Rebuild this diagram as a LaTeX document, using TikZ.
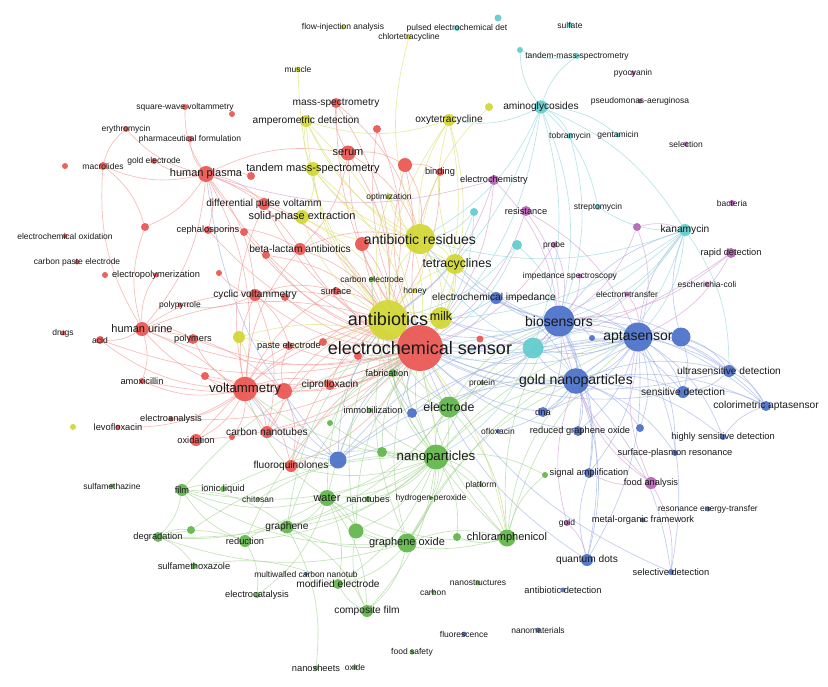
\documentclass[tikz,border=0pt]{standalone}
\usepackage{fontspec}
\setmainfont{Liberation Sans}
\pgfdeclarelayer{bg}\pgfdeclarelayer{fg}\pgfsetlayers{bg,main,fg}
\definecolor{cR}{HTML}{E95450}
\definecolor{cY}{HTML}{D2D632}
\definecolor{cG}{HTML}{60B648}
\definecolor{cB}{HTML}{4A6FC8}
\definecolor{cC}{HTML}{60CCCE}
\definecolor{cP}{HTML}{B762B7}
\definecolor{lR}{HTML}{F29A96}
\definecolor{lY}{HTML}{DDE070}
\definecolor{lG}{HTML}{A6D696}
\definecolor{lB}{HTML}{9EB2E6}
\definecolor{lC}{HTML}{96D6DE}
\definecolor{lP}{HTML}{D49ED6}
\tikzset{
  nd/.style={circle,inner sep=0pt,draw=none,fill opacity=0.92},
  lbl/.style={inner sep=0pt,text=black!90},
  f8/.style={font=\fontsize{8.5}{9}\selectfont},
  f9/.style={font=\fontsize{9.3}{10}\selectfont},
  f10/.style={font=\fontsize{10.2}{11}\selectfont},
  f11/.style={font=\fontsize{11}{12}\selectfont},
  f12/.style={font=\fontsize{12.4}{13}\selectfont},
  f13/.style={font=\fontsize{13.2}{14}\selectfont},
  f14/.style={font=\fontsize{14}{15}\selectfont},
  f18/.style={font=\fontsize{18}{19}\selectfont},
  ed/.style={line width=0.65pt,opacity=0.66},
  eR/.style={ed,draw=lR}, eY/.style={ed,draw=lY}, eG/.style={ed,draw=lG},
  eB/.style={ed,draw=lB}, eC/.style={ed,draw=lC}, eP/.style={ed,draw=lP}
}
\newcommand\kw[7]{\node[nd,minimum size=#4*2pt,fill=#5] (#1) at (#2,#3) {};
  \begin{pgfonlayer}{fg}\node[lbl,#6] (#1l) at (#1) {#7};\end{pgfonlayer}}
\newcommand\kn[5]{\node[nd,minimum size=#4*2pt,fill=#5] (#1) at (#2,#3) {};}
\begin{document}
\begin{tikzpicture}[x=1pt,y=-1pt]
\useasboundingbox (0,0) rectangle (828,686);
% ---------- yellow
\kw{fia}{343}{27}{2.5}{cY}{f8}{flow-injection analysis}
\kw{ctc}{409}{37}{2.5}{cY}{f8}{chlortetracycline}
\kw{mus}{298}{69}{2.5}{cY}{f8}{muscle}
\kw{amp}{306}{121}{6}{cY}{f10}{amperometric detection}
\kw{tms}{313}{169}{7}{cY}{f11}{tandem mass-spectrometry}
\kw{opt}{389}{197}{3}{cY}{f8}{optimization}
\kw{spe}{302}{217}{7}{cY}{f11}{solid-phase extraction}
\kn{y489}{489}{107}{4}{cY}
\kw{oxy}{449}{120}{6}{cY}{f10}{oxytetracycline}
\kw{ar}{420}{239}{15}{cY}{f14}{antibiotic residues}
\kw{tc}{455}{264}{10}{cY}{f12,xshift=2pt}{tetracyclines}
\kw{honey}{415}{291}{2.5}{cY}{f8}{honey}
\kw{ab}{388}{320}{20}{cY}{f18,yshift=1pt}{antibiotics}
\kw{milk}{441}{318}{11}{cY}{f12,yshift=2pt}{milk}
\kn{y239}{239}{337}{6}{cY}
\kn{y73}{73}{427}{3}{cY}
% ---------- red
\kw{ms}{336}{103}{5}{cR}{f10}{mass-spectrometry}
\kw{swv}{185}{107}{3}{cR}{f8}{square-wave voltammetry}
\kn{r232}{232}{114}{3}{cR}
\kn{r377}{377}{129}{4}{cR}
\kw{ery}{126}{129}{3}{cR}{f8}{erythromycin}
\kw{pharm}{190}{139}{3}{cR}{f8}{pharmaceutical formulation}
\kw{serum}{348}{153}{7.5}{cR}{f11}{serum}
\kn{r405}{405}{165}{7}{cR}
\kw{mac}{103}{166}{4}{cR}{f8}{macrolides}
\kn{r65}{65}{166}{3}{cR}
\kw{gel}{154}{161}{3}{cR}{f8}{gold electrode}
\kw{hp}{206}{174}{8}{cR}{f11}{human plasma}
\kn{r251}{251}{176}{4}{cR}
\kw{bind}{440}{172}{4}{cR}{f9}{binding}
\kw{dpv}{264}{204}{6}{cR}{f10}{differential pulse voltamm}
\kn{r145}{145}{227}{4}{cR}
\kw{ceph}{208}{230}{4}{cR}{f9}{cephalosporins}
\kn{r244}{244}{232}{4}{cR}
\kw{eox}{65}{236}{2.5}{cR}{f8}{electrochemical oxidation}
\kw{bla}{300}{249}{6}{cR}{f10}{beta-lactam antibiotics}
\kn{r266}{266}{255}{4}{cR}
\kn{r362}{362}{244}{7}{cR}
\kw{cpe}{77}{262}{2.5}{cR}{f8}{carbon paste electrode}
\kn{r105}{105}{275}{3}{cR}
\kw{epol}{156}{275}{2.5}{cR}{f9}{electropolymerization}
\kn{r219}{219}{273}{3}{cR}
\kw{cv}{255}{295}{6}{cR}{f10}{cyclic voltammetry}
\kn{r285}{285}{297}{4}{cR}
\kw{surf}{336}{291}{4}{cR}{f9}{surface}
\kw{ppy}{180}{305}{2.5}{cR}{f8}{polypyrrole}
\kw{hu}{142}{329}{7}{cR}{f11}{human urine}
\kw{drugs}{63}{333}{2.5}{cR}{f8}{drugs}
\kw{acid}{100}{340}{4}{cR}{f8}{acid}
\kw{poly}{193}{339}{5}{cR}{f9}{polymers}
\kw{pe}{289}{346}{4}{cR}{f9}{paste electrode}
\kn{r323}{323}{342}{4}{cR}
\kn{r358}{358}{356}{4}{cR}
\kw{amox}{142}{381}{3}{cR}{f9}{amoxicillin}
\kn{r205}{205}{376}{4}{cR}
\kw{vt}{245}{389}{12.3}{cR}{f13}{voltammetry}
\kn{v2}{284}{391}{8}{cR}
\kw{cip}{330}{385}{5}{cR}{f10}{ciprofloxacin}
\kw{ea}{171}{419}{2.5}{cR}{f9}{electroanalysis}
\kw{levo}{118}{427}{2.5}{cR}{f9}{levofloxacin}
\kw{oxid}{196}{440}{6}{cR}{f9}{oxidation}
\kw{cnt}{267}{432}{6}{cR}{f10}{carbon nanotubes}
\kn{r232b}{232}{437}{3}{cR}
\kw{fq}{291}{466}{6}{cR}{f10}{fluoroquinolones}
\kn{r480}{480}{339}{3.5}{cR}
% ---------- cyan
\kw{ped}{457}{28}{3}{cC}{f8}{pulsed electrochemical det}
\kn{c498}{498}{18}{3.5}{cC}
\kw{sulf}{570}{25}{2.5}{cC}{f8}{sulfate}
\kn{c520}{520}{50}{3}{cC}
\kw{tms2}{577}{56}{3}{cC}{f8}{tandem-mass-spectrometry}
\kw{ami}{541}{107}{6.7}{cC}{f10}{aminoglycosides}
\kw{tob}{570}{136}{3}{cC}{f8}{tobramycin}
\kw{gen}{618}{135}{2.5}{cC}{f8}{gentamicin}
\kn{c474}{474}{212}{4}{cC}
\kw{strep}{598}{207}{3}{cC}{f8}{streptomycin}
\kw{kan}{685}{230}{6}{cC}{f10}{kanamycin}
\kn{c517}{517}{245}{5}{cC}
% ---------- purple
\kw{pyo}{633}{73}{2.5}{cP}{f8}{pyocyanin}
\kw{pa}{640}{101}{2.5}{cP}{f8}{pseudomonas-aeruginosa}
\kw{selc}{686}{144}{2.5}{cP}{f8}{selection}
\kw{echem}{494}{180}{5}{cP}{f9}{electrochemistry}
\kw{res}{526}{211}{5}{cP}{f9}{resistance}
\kw{bact}{732}{203}{3}{cP}{f8}{bacteria}
\kn{p637}{637}{227}{4}{cP}
\kw{probe}{554}{245}{3}{cP}{f8}{probe}
\kw{rd}{731}{253}{5}{cP}{f9}{rapid detection}
\kw{imps}{580}{276}{2.5}{cP}{f8,xshift=-10pt}{impedance spectroscopy}
\kw{ecoli}{707}{284}{2.5}{cP}{f8}{escherichia-coli}
\kw{et}{627}{294}{2.5}{cP}{f8}{electron-transfer}
\kw{fa}{651}{483}{6}{cP}{f9}{food analysis}
\kw{gold}{567}{523}{3}{cP}{f8}{gold}
% ---------- green
\kw{cel}{372}{279}{2.5}{cG}{f8}{carbon electrode}
\kw{fab}{393}{373}{4}{cG}{f9,xshift=-6pt}{fabrication}
\kw{imm}{370}{410}{2.5}{cG}{f9,xshift=3pt}{immobilization}
\kn{g330}{330}{423}{3}{cG}
\kw{el}{449}{407}{10.5}{cG}{f12}{electrode}
\kn{g382}{382}{452}{5}{cG}
\kw{np}{436}{457}{12.5}{cG}{f13}{nanoparticles}
\kw{sfz}{112}{486}{2.5}{cG}{f8}{sulfamethazine}
\kw{film}{182}{490}{6}{cG}{f9}{film}
\kw{il}{223}{489}{3}{cG}{f9}{ionic liquid}
\kw{chit}{258}{499}{2}{cG}{f8}{chitosan}
\kw{wat}{327}{498}{8}{cG}{f11}{water}
\kw{nt}{368}{499}{3}{cG}{f9}{nanotubes}
\kw{hpx}{431}{498}{2}{cG}{f8}{hydrogen-peroxide}
\kw{plat}{481}{485}{2}{cG}{f8}{platform}
\kw{prot}{482}{383}{2}{cG}{f8}{protein}
\kw{deg}{158}{537}{5}{cG}{f9}{degradation}
\kn{g191}{191}{530}{4}{cG}
\kw{gr}{287}{527}{6.5}{cG}{f10}{graphene}
\kw{redu}{245}{541}{6}{cG}{f9}{reduction}
\kn{g356}{356}{531}{7.5}{cG}
\kw{go}{407}{543}{9.5}{cG}{f11}{graphene oxide}
\kn{g457}{457}{537}{4}{cG}
\kw{chl}{507}{538}{8.5}{cG}{f11}{chloramphenicol}
\kn{g545}{545}{475}{3}{cG}
\kw{smx}{194}{566}{3}{cG}{f9}{sulfamethoxazole}
\kw{mod}{338}{584}{5}{cG}{f10}{modified electrode}
\kw{ecat}{257}{595}{3}{cG}{f9}{electrocatalysis}
\kw{cf}{367}{611}{6}{cG}{f10}{composite film}
\kw{fs}{412}{652}{2.5}{cG}{f8}{food safety}
\kw{nsh}{316}{668}{2.5}{cG}{f9}{nanosheets}
\kw{oxide}{355}{667}{2.5}{cG}{f8}{oxide}
\kw{nstr}{478}{583}{2.5}{cG}{f8}{nanostructures}
\kw{carb}{433}{592}{2}{cG}{f8}{carbon}
% ---------- blue
\kw{eimp}{496}{298}{6}{cB}{f10,xshift=-2pt}{electrochemical impedance}
\kn{cy1}{533}{348}{10.5}{cC}
\kw{bs}{559}{321}{15.5}{cB}{f14}{biosensors}
\kw{apt}{638}{337}{14.5}{cB}{f14}{aptasensor}
\kn{b681}{681}{337}{9.5}{cB}
\kn{b592}{592}{338}{3}{cB}
\kw{gnp}{576}{381}{12.8}{cB}{f14}{gold nanoparticles}
\kw{usd}{729}{371}{6}{cB}{f10}{ultrasensitive detection}
\kw{sd}{683}{392}{6}{cB}{f10}{sensitive detection}
\kw{ca}{766}{406}{5}{cB}{f10}{colorimetric aptasensor}
\kn{b412}{412}{413}{5}{cB}
\kw{dna}{543}{412}{5}{cB}{f9}{dna}
\kw{oflx}{498}{431}{2}{cB}{f8}{ofloxacin}
\kw{rgo}{578}{431}{5}{cB}{f9,xshift=2pt}{reduced graphene oxide}
\kn{b640}{640}{428}{4}{cB}
\kw{hsd}{723}{437}{3}{cB}{f9}{highly sensitive detection}
\kw{spr}{675}{453}{3}{cB}{f9}{surface-plasmon resonance}
\kn{bl1}{338}{460}{8.5}{cB}
\kw{mwcnt}{306}{574}{2}{cB}{f8}{multiwalled carbon nanotub}
\kw{sa}{589}{473}{5}{cB}{f9}{signal amplification}
\kw{ret}{708}{509}{2.5}{cB}{f8}{resonance energy-transfer}
\kw{mof}{643}{520}{2.5}{cB}{f9}{metal-organic framework}
\kw{qd}{587}{560}{6}{cB}{f10}{quantum dots}
\kw{sel}{671}{572}{3}{cB}{f9}{selective detection}
\kw{ad}{563}{590}{2.5}{cB}{f9}{antibiotic detection}
\kw{fluo}{464}{634}{2.5}{cB}{f8}{fluorescence}
\kw{nm}{538}{630}{2.5}{cB}{f8}{nanomaterials}
% the big red one on top
\kw{es}{420}{348}{23}{cR}{f18}{electrochemical sensor}
% ---------- edges
\begin{pgfonlayer}{bg}
\fill[white] (0,0) rectangle (828,686);
\foreach \a/\b in {es/ms,es/serum,es/r405,es/hp,es/dpv,es/bla,es/r362,es/cv,es/surf,es/hu,es/poly,es/pe,es/r323,es/r358,es/vt,es/v2,es/cip,es/cnt,es/oxid,es/fq,es/bind,es/r377,es/r266,es/r285,es/r205,es/ea,es/ceph,es/acid,es/r244,es/amox,
 hp/mac,hp/vt,hp/hu,hp/ceph,hp/dpv,hp/cv,hp/serum,hp/bla,hp/pharm,hp/gel,hp/ery,hp/r251,hp/r145,hp/ab,hp/swv,
 vt/hu,vt/cv,vt/cnt,vt/oxid,vt/poly,vt/cip,vt/v2,vt/dpv,vt/bla,vt/acid,vt/amox,vt/ea,vt/fq,vt/r205,vt/pe,vt/surf,vt/ab,vt/levo,vt/r232b,
 hu/acid,hu/cv,hu/poly,hu/v2,hu/r145,hu/mac,hu/amox,hu/cnt,hu/ab,hu/epol,
 serum/ms,serum/r405,serum/bla,serum/ab,serum/ar,r405/ab,r405/ar,r405/bind,
 cv/surf,cv/pe,cv/cnt,cv/ppy,cv/ab,cv/r219,mac/r145,mac/ery,ceph/bla,bla/ab,bla/ar,r362/ab,
 v2/cnt,v2/cip,v2/pe,v2/fq,v2/ab,cip/ab,fq/ab,fq/es,cnt/ab,dpv/ab,r266/ab,ms/ab,ms/ar,r377/ab,bind/ab,surf/ab,r358/ab,r323/ab,oxid/ab}
  \draw[eR] (\a) to[bend left=17] (\b);
\foreach \a/\b in {ab/ar,ab/tc,ab/milk,ab/amp,ab/tms,ab/spe,ab/oxy,ab/opt,ab/honey,ab/y239,ab/cel,ab/chl,ab/np,ab/el,ab/es,ab/mus,
 ar/amp,ar/tms,ar/spe,ar/oxy,ar/tc,ar/milk,ar/opt,ar/honey,ar/y489,ar/es,ar/ctc,tc/oxy,tc/milk,tc/amp,tc/tms,tc/es,oxy/milk,oxy/amp,oxy/es,tms/spe,tms/amp,tms/es,spe/es,amp/es,milk/es,y239/es,y239/vt,opt/es}
  \draw[eY] (\a) to[bend left=17] (\b);
\foreach \a/\b in {np/es,np/ab,np/el,np/wat,np/go,np/chl,np/gr,np/film,np/deg,np/cf,np/mod,np/nt,np/hpx,np/plat,np/g356,np/g457,np/fab,np/imm,np/g382,np/g330,np/gnp,np/bs,np/apt,np/redu,np/g545,np/cel,np/vt,np/fq,
 el/es,el/ab,el/wat,el/go,el/chl,el/gr,el/bs,el/gnp,el/fab,el/apt,
 go/wat,go/gr,go/chl,go/cf,go/mod,go/g356,go/es,go/ab,go/apt,go/gnp,go/deg,go/film,
 chl/g457,chl/es,chl/ab,chl/gnp,chl/apt,chl/bs,chl/g545,chl/wat,chl/g356,
 wat/film,wat/gr,wat/es,wat/ab,wat/g356,wat/deg,wat/cf,wat/mod,wat/ecat,wat/vt,
 film/il,film/deg,film/es,film/gr,deg/smx,deg/g191,deg/redu,redu/gr,redu/ecat,redu/film,redu/es,gr/nsh,gr/es,gr/ab,gr/cf,
 cf/mod,cf/g356,smx/mod,g356/es,g356/ab,fab/es,g382/es,g330/es,chit/np,il/np,g191/np}
  \draw[eG] (\a) to[bend left=17] (\b);
\foreach \a/\b in {bs/apt,bs/gnp,bs/eimp,bs/es,bs/ab,bs/milk,bs/kan,bs/dna,bs/rgo,bs/usd,bs/sd,bs/ca,bs/b681,bs/cy1,bs/tc,bs/ar,bs/b412,bs/bl1,bs/qd,bs/sa,bs/b592,
 apt/gnp,apt/b681,apt/usd,apt/sd,apt/ca,apt/hsd,apt/spr,apt/kan,apt/es,apt/ab,apt/milk,apt/rgo,apt/dna,apt/qd,apt/sa,apt/sel,apt/b640,apt/cy1,apt/b592,apt/tc,
 gnp/b681,gnp/usd,gnp/sd,gnp/ca,gnp/hsd,gnp/spr,gnp/dna,gnp/rgo,gnp/qd,gnp/sa,gnp/es,gnp/ab,gnp/cy1,gnp/b640,gnp/sel,gnp/oflx,
 b681/usd,b681/sd,b681/ca,b681/kan,usd/sd,usd/ca,sd/ca,hsd/ca,
 bl1/es,bl1/ab,bl1/vt,bl1/cnt,bl1/gnp,bl1/bs,bl1/hp,bl1/v2,bl1/apt,
 b412/es,b412/ab,b412/apt,eimp/es,eimp/ab,eimp/apt,eimp/gnp,qd/sa,qd/es,sel/es,dna/es,rgo/es,sd/es,usd/es}
  \draw[eB] (\a) to[bend left=17] (\b);
\foreach \a/\b in {ami/tms2,ami/kan,ami/bs,ami/es,ami/ab,ami/ar,ami/tob,ami/gen,ami/c520,ami/cy1,ami/oxy,ami/strep,
 kan/apt,kan/bs,kan/es,kan/ab,kan/gnp,kan/cy1,kan/strep,kan/usd,kan/ar,
 cy1/es,cy1/ab,cy1/apt,cy1/gnp,cy1/np,cy1/ar,c474/ab,c474/ar,c474/es,c517/es,c517/ab,c517/bs,tob/bs,tms2/c520}
  \draw[eC] (\a) to[bend left=17] (\b);
\foreach \a/\b in {echem/es,echem/ab,echem/bs,echem/hp,res/bs,res/apt,res/es,p637/bs,p637/apt,p637/kan,rd/apt,rd/es,rd/bs,
 fa/apt,fa/gnp,fa/sa,fa/bs,gold/qd,gold/gnp,et/bs,et/apt,imps/bs,probe/bs,probe/es,fa/sel}
  \draw[eP] (\a) to[bend left=17] (\b);
\end{pgfonlayer}
\end{tikzpicture}
\end{document}
